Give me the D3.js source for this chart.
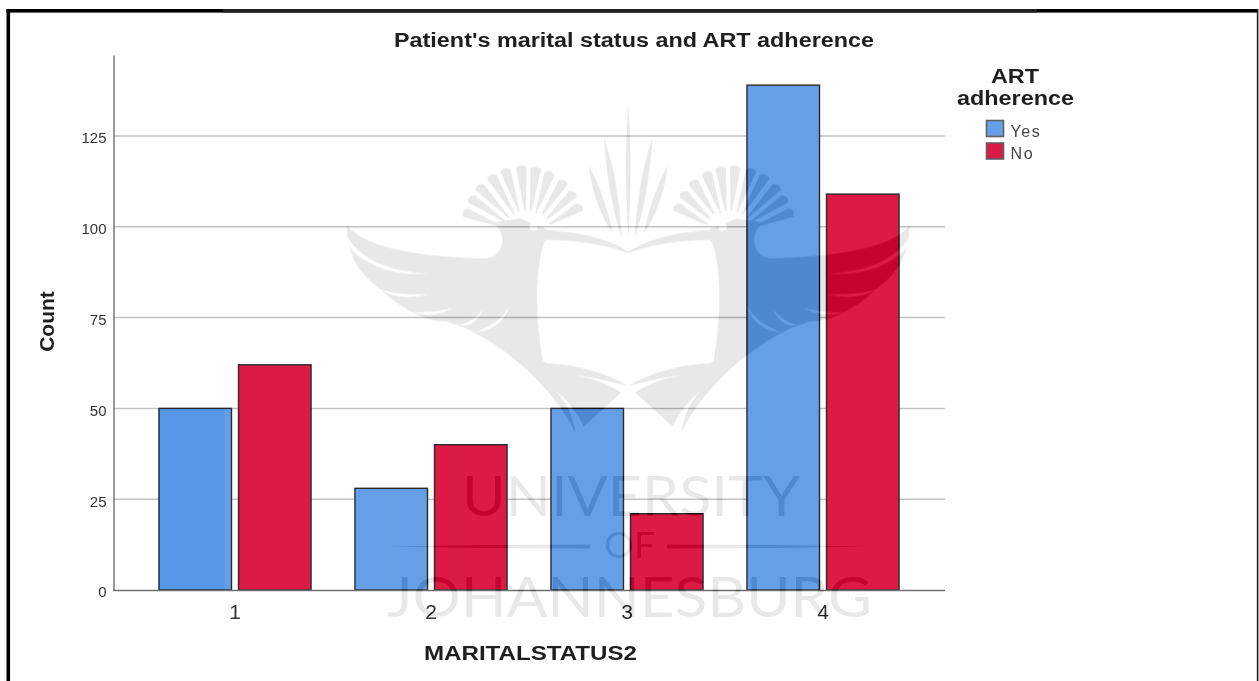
<!DOCTYPE html>
<html>
<head>
<meta charset="utf-8">
<script src="https://cdn.jsdelivr.net/npm/d3@7"></script>
<style>
html, body { margin: 0; padding: 0; background: #fff; overflow: hidden; }
svg { display: block; font-family: "Liberation Sans", Arial, sans-serif; filter: blur(0.45px); }
.yAxis text { font-size: 15px; fill: #333; }
.xAxis text { font-size: 21px; fill: #333; }
.title { font-weight: bold; fill: #1e1e1e; font-size: 20px; }
</style>
</head>
<body>
<script>
var categories = ["1", "2", "3", "4"];
var seriesNames = ["Yes", "No"];
var yesValues = [50, 28, 50, 139];
var noValues = [62, 40, 21, 109];
var yTicks = [0, 25, 50, 75, 100, 125];
var seriesColors = ["#659fe8", "#dc1a46"];

var width = 1259;
var height = 681;

var svg = d3.select("body").append("svg")
    .attr("width", width)
    .attr("height", height);

svg.append("rect")
    .attr("width", width)
    .attr("height", height)
    .attr("fill", "#fff");

// screenshot frame
svg.append("rect").attr("x", 6.5).attr("y", 9).attr("width", 3.6).attr("height", 672).attr("fill", "#000");
svg.append("rect").attr("x", 6.5).attr("y", 9).attr("width", 1251).attr("height", 3.6).attr("fill", "#000");
svg.append("rect").attr("x", 223).attr("y", 9).attr("width", 814).attr("height", 3.6).attr("fill", "#222");
svg.append("rect").attr("x", 1256.8).attr("y", 9).attr("width", 1.6).attr("height", 672).attr("fill", "#222");

var xScale = d3.scaleBand()
    .domain(categories)
    .range([137, 921])
    .paddingInner(0.224)
    .paddingOuter(0.112);

var innerScale = d3.scaleBand()
    .domain(seriesNames)
    .range([0, xScale.bandwidth()])
    .paddingInner(0.088);

var yScale = d3.scaleLinear()
    .domain([0, 147.3])
    .range([590, 55]);

// grid
svg.append("g")
    .selectAll("line")
    .data(yTicks.slice(1))
    .enter().append("line")
        .attr("x1", 113)
        .attr("x2", 945)
        .attr("y1", function(d) { return yScale(d); })
        .attr("y2", function(d) { return yScale(d); })
        .attr("stroke", "#c2c2c2")
        .attr("stroke-width", 1.5);

// bars
var groups = svg.append("g")
    .selectAll("g")
    .data(categories)
    .enter().append("g")
        .attr("transform", function(d) { return "translate(" + xScale(d) + ",0)"; });

groups.selectAll("rect")
    .data(function(d, i) {
        return [
            {name: seriesNames[0], value: yesValues[i], color: seriesColors[0]},
            {name: seriesNames[1], value: noValues[i], color: seriesColors[1]}
        ];
    })
    .enter().append("rect")
        .attr("x", function(d) { return innerScale(d.name); })
        .attr("y", function(d) { return yScale(d.value); })
        .attr("width", innerScale.bandwidth())
        .attr("height", function(d) { return yScale(0) - yScale(d.value); })
        .attr("fill", function(d) { return d.color; })
        .attr("stroke", "#2b2b2b")
        .attr("stroke-width", 1.4);

// axes
var yAxis = svg.append("g")
    .attr("class", "yAxis")
    .attr("transform", "translate(113.5,2)")
    .call(d3.axisLeft(yScale).tickValues(yTicks).tickSize(0).tickPadding(7));
yAxis.select(".domain").attr("stroke", "#808080").attr("stroke-width", 1.6).attr("transform", "translate(0,-2)");

var xAxis = svg.append("g")
    .attr("class", "xAxis")
    .attr("transform", "translate(0,590)")
    .call(d3.axisBottom(xScale).tickSize(0).tickPadding(14));
xAxis.select(".domain").remove();
svg.append("line")
    .attr("x1", 113).attr("x2", 945)
    .attr("y1", 590.5).attr("y2", 590.5)
    .attr("stroke", "#707070")
    .attr("stroke-width", 1.4);

// titles (the reference is stretched sideways, so widths are fixed)
function addTitle(label, x, y, w) {
    svg.append("text")
        .attr("class", "title")
        .text(label)
        .attr("x", x)
        .attr("y", y)
        .attr("textLength", w)
        .attr("lengthAdjust", "spacingAndGlyphs");
}
addTitle("Patient's marital status and ART adherence", 394, 47, 480);
addTitle("MARITALSTATUS2", 424, 660, 213);
addTitle("ART", 991, 83, 48);
addTitle("adherence", 957, 105, 117);

svg.append("text")
    .attr("class", "title")
    .text("Count")
    .style("font-size", "21px")
    .attr("text-anchor", "middle")
    .attr("transform", "translate(54,321.5) rotate(-90)");

// legend
var legend = svg.append("g")
    .selectAll("g")
    .data(seriesNames)
    .enter().append("g")
        .attr("transform", function(d, i) { return "translate(986.5," + (120.5 + i * 22.5) + ")"; });
legend.append("rect")
    .attr("width", 17)
    .attr("height", 16)
    .attr("fill", function(d, i) { return seriesColors[i]; })
    .attr("stroke", "#606060")
    .attr("stroke-width", 1.6);
legend.append("text")
    .text(function(d) { return d; })
    .attr("x", 24)
    .attr("y", 16)
    .attr("fill", "#444")
    .style("font-size", "16px")
    .style("letter-spacing", "1.6px");

// the faint darker strip on the first bar
svg.append("rect")
    .attr("x", xScale("1"))
    .attr("y", yScale(yesValues[0]))
    .attr("width", innerScale.bandwidth() - 7)
    .attr("height", yScale(0) - yScale(yesValues[0]))
    .attr("fill", "#0f0902")
    .style("mix-blend-mode", "difference");

// university watermark, drawn over everything
var mark = svg.append("g").style("mix-blend-mode", "difference");
var crest = mark.append("g").attr("transform", "translate(340,90) scale(0.3827,0.3333)");
var ink = "#171717";

function half(g) {
    // body and wing
    g.append("path").attr("fill", ink).attr("d",
        "M18,405C60,470 200,500 380,505C420,505 445,440 400,398L470,385L545,420" +
        "C620,425 700,445 753,485L753,490C700,465 620,450 540,450C525,455 515,560 515,620" +
        "C515,700 525,780 530,810C535,820 540,820 550,820C620,825 700,850 753,888" +
        "L735,908L637,1010L615,1030C570,920 470,800 350,727C330,715 315,710 280,695" +
        "C250,695 215,685 190,668C160,650 130,625 105,597C60,560 35,520 25,472C20,450 18,430 18,405Z");
    // white slivers between the feathers
    var slivers = [
        "M21,445C55,510 140,548 228,550C150,560 70,530 25,472Z",
        "M105,597C140,612 190,615 232,612C190,625 140,625 105,597Z",
        "M190,668C225,668 260,665 292,655C265,672 225,680 190,668Z",
        "M310,705C335,700 355,685 372,660C362,690 340,712 310,705Z",
        "M350,727C390,715 425,685 442,650C430,695 395,725 350,727Z",
        "M565,905C595,940 610,985 615,1030L637,1010C615,960 590,925 565,905Z",
        "M615,855C660,862 710,875 753,888L735,908C700,880 660,865 615,855Z",
        "M505,355C530,365 545,385 548,415L535,400C530,380 520,365 505,355Z"
    ];
    // crest feathers
    var tips = [[315, 362], [332, 318], [355, 280], [390, 248], [428, 228], [472, 218],
        [513, 222], [552, 238], [590, 265], [618, 302], [638, 343]];
    var hub = [490, 440];
    g.selectAll(".feather").data(tips).enter().append("path")
        .attr("class", "feather")
        .attr("fill", ink)
        .attr("d", function(t) {
            var dx = t[0] - hub[0], dy = t[1] - hub[1];
            var len = Math.sqrt(dx * dx + dy * dy);
            var ux = dx / len, uy = dy / len, nx = -uy, ny = ux;
            var b = 0.35, w = 14;
            var bx = hub[0] + dx * b, by = hub[1] + dy * b;
            return "M" + (bx + nx * 2) + "," + (by + ny * 2) +
                "L" + (t[0] + nx * w - ux * 14) + "," + (t[1] + ny * w - uy * 14) +
                "Q" + t[0] + "," + t[1] + " " + (t[0] - nx * w - ux * 14) + "," + (t[1] - ny * w - uy * 14) +
                "L" + (bx - nx * 2) + "," + (by - ny * 2) + "Z";
        });
    g.selectAll(".sliver").data(slivers).enter().append("path")
        .attr("class", "sliver")
        .attr("fill", "#000")
        .attr("d", function(d) { return d; });
    g.append("circle").attr("cx", 506).attr("cy", 411).attr("r", 11).attr("fill", "#000");
    // plumes
    g.append("path").attr("fill", ink).attr("d", "M690,145C720,240 730,340 737,445C715,380 695,260 690,145Z");
    g.append("path").attr("fill", ink).attr("d", "M650,225C680,290 700,360 713,430C685,390 655,300 650,225Z");
}
half(crest.append("g"));
half(crest.append("g").attr("transform", "translate(1506,0) scale(-1,1)"));
crest.append("path").attr("fill", ink).attr("d", "M753,40C761,150 761,300 753,445C745,300 745,150 753,40Z");

var markWords = [
    {t: "UNIVERSITY", x: 462, y: 516, w: 338, s: 57},
    {t: "OF", x: 604, y: 558, w: 51, s: 36},
    {t: "JOHANNESBURG", x: 387, y: 617, w: 485, s: 57}
];
mark.selectAll("text").data(markWords).enter().append("text")
    .text(function(d) { return d.t; })
    .attr("x", function(d) { return d.x; })
    .attr("y", function(d) { return d.y; })
    .attr("textLength", function(d) { return d.w; })
    .attr("lengthAdjust", "spacingAndGlyphs")
    .attr("fill", ink)
    .style("font-family", "Lato, 'Liberation Sans', sans-serif")
    .style("font-size", function(d) { return d.s + "px"; });

var rule = d3.area().x(function(d) { return d[0]; }).y0(function(d) { return d[1] - d[2]; }).y1(function(d) { return d[1] + d[2]; });
mark.append("path").attr("fill", ink).attr("d", rule([[389, 546.5, 0], [480, 546.5, 1.5], [590, 546.5, 2]]));
mark.append("path").attr("fill", ink).attr("d", rule([[667, 546.5, 2], [780, 546.5, 1.5], [866, 546.5, 0]]));
</script>
</body>
</html>
